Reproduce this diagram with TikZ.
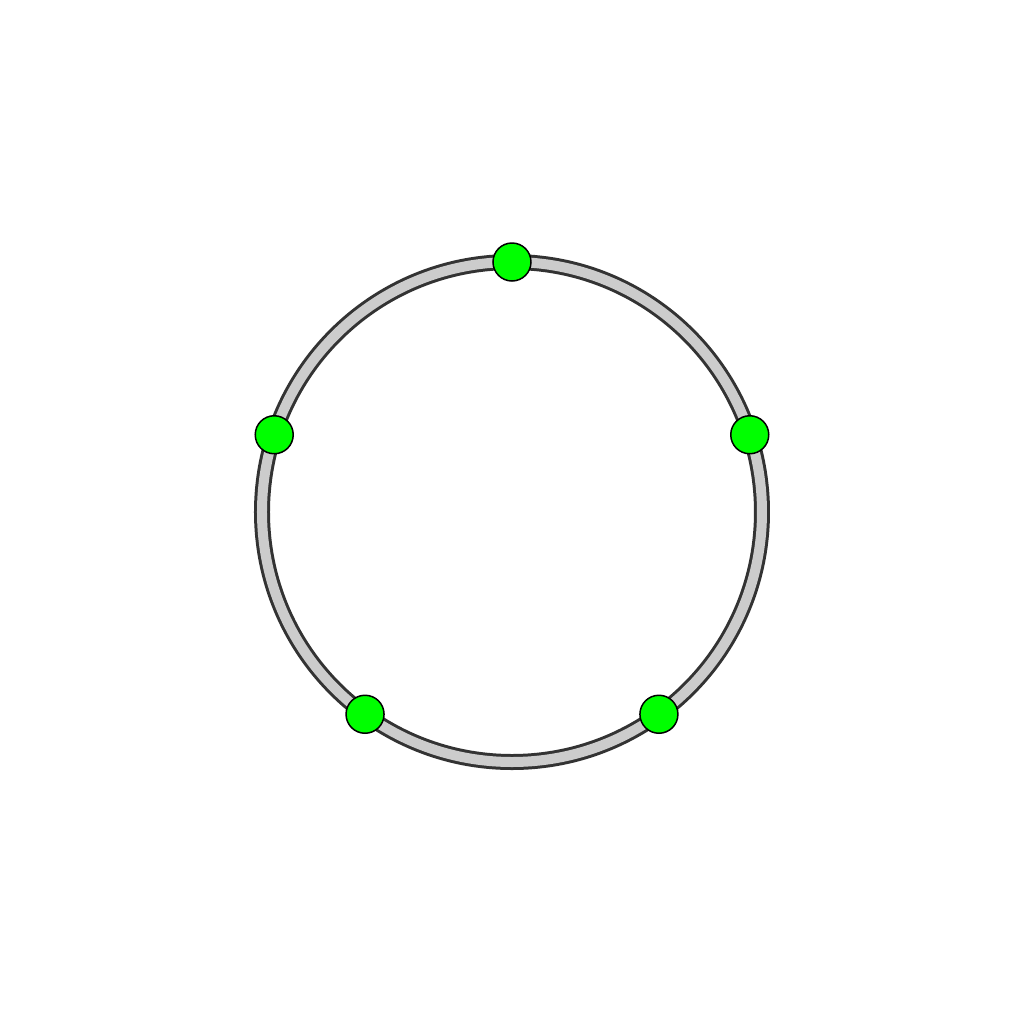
\documentclass[tikz,border=0pt]{standalone}
\usepackage{tikz}
\definecolor{ringedge}{HTML}{333333}
\definecolor{ringfill}{HTML}{CCCCCC}
\definecolor{dotgreen}{HTML}{00FF00}
\tikzset{
  ring/.style={draw=ringedge, line width=0.3mm, double=ringfill, double distance=1.0mm},
  seat/.style={circle, draw=black, line width=0.15mm, fill=dotgreen, minimum size=3.8mm, inner sep=0pt}
}
\begin{document}
\begin{tikzpicture}

  % --- 1. 枠 (1024x1024 に対応) ---
  \useasboundingbox (-5.12,-5.12) rectangle (5.12,5.12);

  % --- 2. 円環 ---
  \coordinate (O) at (0,0);
  \draw[ring] (O) circle (2.5);

  % --- 3. 円周上の 5 点 (正五角形の頂点) ---
  \foreach \i in {1,...,5} {
    \node[seat] (v\i) at ({90 - 72*(\i-1)}:2.5) {};
  }

\end{tikzpicture}
\end{document}
